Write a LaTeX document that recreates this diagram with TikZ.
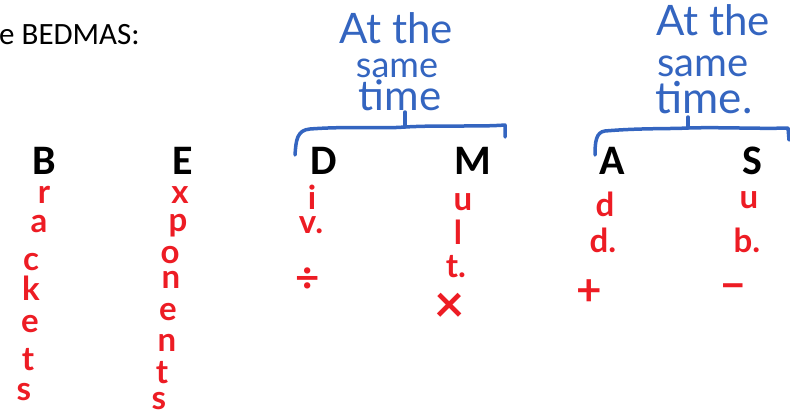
\documentclass[tikz,border=0pt]{standalone}
\usepackage{fontspec}
\setmainfont{Carlito}
\newfontfamily\hand{Lato}
\definecolor{inkred}{RGB}{237,28,36}
\definecolor{inkblue}{RGB}{52,101,192}
\begin{document}
\begin{tikzpicture}[x=1pt,y=-1pt,
  big/.style={font=\bfseries\fontsize{42}{42}\selectfont, inner sep=0},
  redink/.style={text=inkred, font=\hand\bfseries\fontsize{33}{33}\selectfont, inner sep=0},
  blueink/.style={text=inkblue, font=\hand\fontsize{40}{40}\selectfont, inner sep=0},
  bracepath/.style={draw=inkblue, line width=3.5pt, line cap=round, line join=round}]
\useasboundingbox (0,0) rectangle (790,415);
\node[anchor=base west, font=\fontsize{31}{31}\selectfont, inner sep=0] (title) at (-1,44) {e BEDMAS:};
% big letters
\node[big] (B) at (44,161) {B};
\node[big] (E) at (183,161) {E};
\node[big] (D) at (324,161) {D};
\node[big] (M) at (473,161) {M};
\node[big] (A) at (612,161) {A};
\node[big] (S) at (752,161) {S};
% Brackets
\node[redink] (b1) at (44,195) {r};
\node[redink] (b2) at (39,224) {a};
\node[redink] (b3) at (31,262) {c};
\node[redink] (b4) at (31,288) {k};
\node[redink] (b5) at (30,324) {e};
\node[redink] (b6) at (28,360) {t};
\node[redink] (b7) at (24,392) {s};
% Exponents
\node[redink] (e1) at (180,195) {x};
\node[redink] (e2) at (178,226) {p};
\node[redink] (e3) at (170,255) {o};
\node[redink] (e4) at (171,280) {n};
\node[redink] (e5) at (168,312) {e};
\node[redink] (e6) at (167,343) {n};
\node[redink] (e7) at (162,373) {t};
\node[redink] (e8) at (159,401) {s};
% Division
\node[redink] (d1) at (312,197) {i};
\node[redink] (d2) at (311,225) {v.};
\node[redink, font=\hand\bfseries\fontsize{42}{42}\selectfont] (d3) at (308,280) {÷};
% Multiplication
\node[redink] (m1) at (463,202) {u};
\node[redink] (m2) at (458,232) {l};
\node[redink] (m3) at (456,267) {t.};
\node[redink, font=\hand\bfseries\fontsize{52}{52}\selectfont] (m4) at (450,308) {×};
% Addition
\node[redink] (a1) at (605,204) {d};
\node[redink] (a2) at (603,240) {d.};
\node[redink, font=\hand\bfseries\fontsize{44}{44}\selectfont] (a3) at (589,293) {+};
% Subtraction
\node[redink] (s1) at (749,200) {u};
\node[redink] (s2) at (747,240) {b.};
\node[redink, font=\hand\bfseries\fontsize{44}{44}\selectfont] (s3) at (733,292) {−};
% blue notes
\node[blueink, font=\hand\fontsize{42}{42}\selectfont] (n1) at (396,28) {At the};
\node[blueink, font=\hand\fontsize{36}{36}\selectfont] (n2) at (397,68) {same};
\node[blueink, font=\hand\fontsize{42}{42}\selectfont] (n3) at (400,95) {time};
\node[blueink, font=\hand\fontsize{42}{42}\selectfont] (n4) at (713,20) {At the};
\node[blueink] (n5) at (703,66) {same};
\node[blueink, font=\hand\fontsize{44}{44}\selectfont] (n6) at (704,98) {time.};
% braces
\draw[bracepath] (295,155) .. controls (296,140) and (297,130) .. (310,129)
  .. controls (350,126) and (380,129) .. (405,127)
  .. controls (440,125) and (480,127) .. (505,125) -- (505,137);
\draw[bracepath] (405,112) -- (405,127);
\draw[bracepath] (595,155) .. controls (595,142) and (596,132) .. (605,131)
  .. controls (640,128) and (670,129) .. (688,128)
  .. controls (720,127) and (760,129) .. (788,128) -- (789,140);
\draw[bracepath] (688,117) -- (688,128);
\end{tikzpicture}
\end{document}
